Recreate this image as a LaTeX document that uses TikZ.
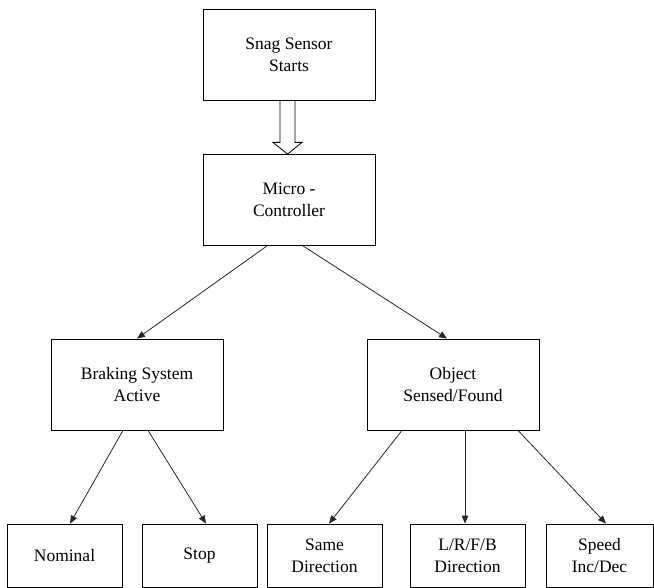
\documentclass[tikz,border=0pt]{standalone}
\usepackage{fontspec}
\setmainfont{Liberation Serif}
\usepackage{tikz}
\usetikzlibrary{arrows.meta}
\usetikzlibrary{positioning,calc}

\begin{document}
\begin{tikzpicture}[x=1pt,y=-1pt,
  every node/.style={rectangle,draw,line width=0.8pt,align=center,inner sep=0pt,
    font=\fontsize{17.5}{22}\selectfont},
  bigbox/.style={minimum width=172pt,minimum height=91pt},
  leafbox/.style={minimum width=115pt,minimum height=63pt},
  link/.style={-{Triangle[length=8pt,width=6.5pt]},line width=0.8pt,draw=black!85}]
\useasboundingbox (0,0) rectangle (654,588);
\node[bigbox] (snag) at (289,54.5) {Snag Sensor\\Starts};
\node[bigbox] (micro) at (289,200) {Micro -\\Controller};
\node[bigbox] (brake) at (137,384.5) {Braking System\\Active};
\node[bigbox] (object) at (453,384.5) {Object\\Sensed/Found};
\node[leafbox] (nominal) at (64.5,555.5) {Nominal};
\node[leafbox] (stop) at (199.5,555.5) {Stop};
\node[leafbox] (same) at (324.5,555.5) {Same\\Direction};
\node[leafbox] (lrfb) at (467.5,555.5) {L/R/F/B\\Direction};
\node[leafbox,minimum width=107pt] (speed) at (599.5,555.5) {Speed\\Inc/Dec};
% hollow arrow
\draw[line width=0.8pt] ($(snag.south)+(-9,0)$) -- ($(snag.south)+(-9,42)$)
  -- ($(snag.south)+(-16,42)$) -- ($(micro.north)+(-1.5,0)$)
  -- ($(snag.south)+(13,42)$) -- ($(snag.south)+(6,42)$) -- ($(snag.south)+(6,0)$);
\draw[link] ($(micro.south)+(-22,0)$) -- (brake.north);
\draw[link] ($(micro.south)+(14,0)$) -- ($(object.north)+(-6,0)$);
\draw[link] ($(brake.south)+(-14,0)$) -- ($(nominal.north)+(5.5,0)$);
\draw[link] ($(brake.south)+(11,0)$) -- ($(stop.north)+(6.5,0)$);
\draw[link] ($(object.south)+(-51,0)$) -- ($(same.north)+(4.5,0)$);
\draw[link] ($(object.south)+(12,0)$) -- ($(lrfb.north)+(-2.5,0)$);
\draw[link] ($(object.south)+(65,0)$) -- ($(speed.north)+(6.5,0)$);
\end{tikzpicture}
\end{document}
